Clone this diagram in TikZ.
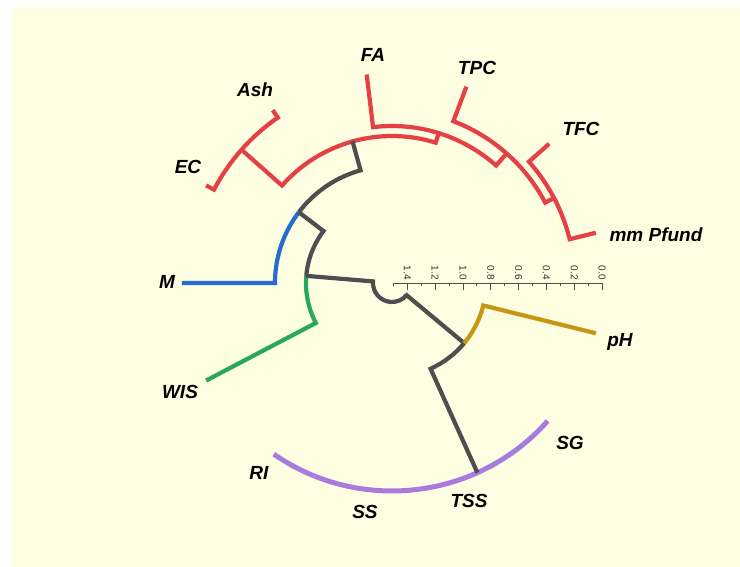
\documentclass[tikz,border=0pt]{standalone}
\usepackage{fontspec}
\setmainfont{Liberation Sans}
\definecolor{bgcream}{RGB}{254,254,226}
\definecolor{cred}{RGB}{229,64,68}
\definecolor{cgray}{RGB}{78,78,78}
\definecolor{cblue}{RGB}{38,108,204}
\definecolor{cgreen}{RGB}{42,166,96}
\definecolor{cgold}{RGB}{198,150,20}
\definecolor{cpurple}{RGB}{168,124,220}

\begin{document}
\begin{tikzpicture}[x=1pt,y=1pt,
  branch/.style={line width=4.2pt},
  leaflab/.style={font=\fontsize{19}{21}\selectfont\bfseries\itshape, text=black, inner sep=0pt},
  ticklab/.style={font=\fontsize{10}{11}\selectfont, text=black!80, rotate=-90, anchor=east, inner sep=0pt}]

% page and panel
\useasboundingbox (-392,-284) rectangle (348,283);
\fill[white] (-392,-284) rectangle (348,283);
\fill[bgcream] (-380,-284) rectangle (348,276);

% leaf tips
\coordinate (tM)   at (180:210);
\coordinate (tWIS) at (207.692:210);
\coordinate (tRI)  at (235.385:208);
\coordinate (tSG)  at (318.462:208);
\coordinate (tpH)  at (346.154:210);
\coordinate (tmmP) at (13.846:210);
\coordinate (tTFC) at (41.538:210);
\coordinate (tTPC) at (69.231:210);
\coordinate (tFA)  at (96.923:210);
\coordinate (tAsh) at (124.615:210);
\coordinate (tEC)  at (152.308:210);

% merge points
\coordinate (n1) at (27.692:183);
\coordinate (n2) at (48.462:173);
\coordinate (n3) at (72.692:157);
\coordinate (n4) at (138.462:201);
\coordinate (n5) at (105.577:147);
\coordinate (n6) at (142.788:117);
\coordinate (n7) at (175.24:86);
\coordinate (p3) at (294.231:208);
\coordinate (n8) at (320.192:94);

% red cluster
\draw[branch,cred] (tTFC) -- (41.538:183) arc[start angle=41.538,end angle=13.846,radius=183] -- (tmmP);
\draw[branch,cred] (n1) -- (27.692:173) arc[start angle=27.692,end angle=69.231,radius=173] -- (tTPC);
\draw[branch,cred] (n2) -- (48.462:157) arc[start angle=48.462,end angle=96.923,radius=157] -- (tFA);
\draw[branch,cred] (n3) -- (72.692:147) arc[start angle=72.692,end angle=138.462,radius=147] -- (n4);
\draw[branch,cred] (tEC) -- (152.308:201) arc[start angle=152.308,end angle=124.615,radius=201] -- (tAsh);

% purple cluster
\draw[branch,cpurple,line width=5pt] (tRI) arc[start angle=235.385,end angle=318.462,radius=208];

% upper-left joins
\draw[branch,cgray] (n5) -- (105.577:117) arc[start angle=105.577,end angle=142.788,radius=117];
\draw[branch,cblue] (n6) arc[start angle=142.788,end angle=180,radius=117] -- (tM);
\draw[branch,cgray] (n6) -- (142.788:86) arc[start angle=142.788,end angle=175.24,radius=86];
\draw[branch,cgreen] (n7) arc[start angle=175.24,end angle=207.692,radius=86] -- (tWIS);

% root and lower-right joins
\draw[branch,cgray] (n7) -- (175.24:19) arc[start angle=175.24,end angle=320.192,radius=19] -- (n8);
\draw[branch,cgray] (n8) arc[start angle=320.192,end angle=294.231,radius=94] -- (p3);
\draw[branch,cgold] (n8) arc[start angle=320.192,end angle=346.154,radius=94] -- (tpH);

% height scale
\draw[cgray,line width=0.9pt] (1.5,0) -- (210,0);
\foreach \i in {0,...,15}{
  \pgfmathsetmacro\xx{210-13.9*\i}
  \ifodd\i
    \draw[cgray,line width=0.8pt] (\xx,0) -- (\xx,-3);
  \else
    \draw[cgray,line width=0.8pt] (\xx,0) -- (\xx,-7);
  \fi
}
\foreach \i/\t in {0/0.0,2/0.2,4/0.4,6/0.6,8/0.8,10/1.0,12/1.2,14/1.4}{
  \node[ticklab] (s\i) at ({210-13.9*\i},3) {\t};
}

% labels
\node[leaflab] (lFA)  at (-19,228)  {FA};
\node[leaflab] (lAsh) at (-137,193) {Ash};
\node[leaflab] (lEC)  at (-204,116) {EC};
\node[leaflab] (lTPC) at (85,215)   {TPC};
\node[leaflab] (lTFC) at (189,154)  {TFC};
\node[leaflab] (lmmP) at (264,48)   {mm Pfund};
\node[leaflab] (lM)   at (-225,1)   {M};
\node[leaflab] (lWIS) at (-212,-109) {WIS};
\node[leaflab] (lpH)  at (228,-59)  {pH};
\node[leaflab] (lSG)  at (178,-160) {SG};
\node[leaflab] (lTSS) at (77,-218)  {TSS};
\node[leaflab] (lSS)  at (-27,-229) {SS};
\node[leaflab] (lRI)  at (-133,-190) {RI};
\end{tikzpicture}
\end{document}
